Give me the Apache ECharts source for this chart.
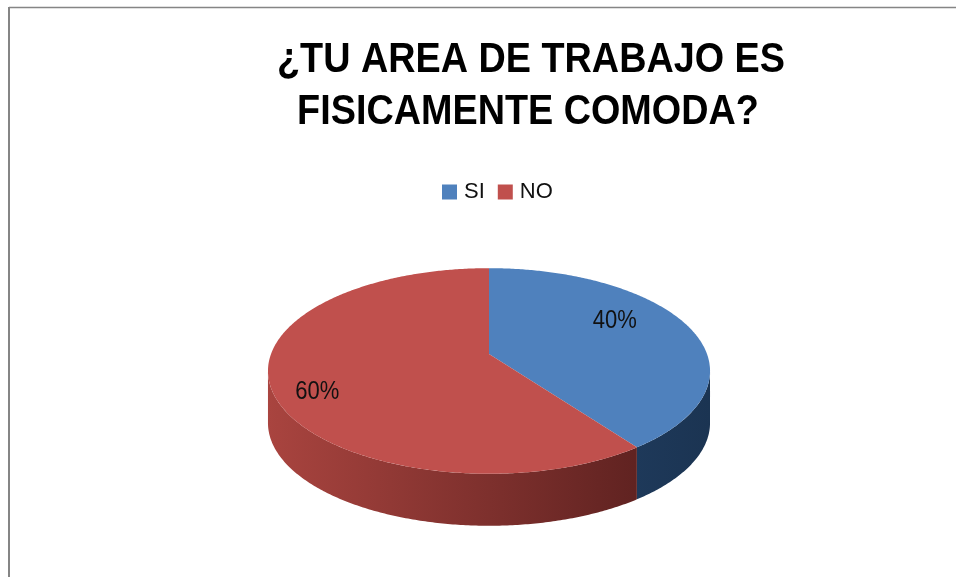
<!DOCTYPE html>
<html>
<head>
<meta charset="utf-8">
<script src="https://cdn.jsdelivr.net/npm/echarts@6/dist/echarts.min.js"></script>
<style>
  html, body { margin: 0; padding: 0; background: #fff; }
  #chart { width: 956px; height: 577px; }
</style>
</head>
<body>
<div id="chart"></div>
<script>
const categories = ['SI', 'NO'];
const values = [40, 60];
const colors = ['#4F81BD', '#C0504D'];
const sideColors = [['#2C5180', '#1B3452'], ['#A9443F', '#521C1B']];
const titleLines = ['¿TU AREA DE TRABAJO ES', 'FISICAMENTE COMODA?'];

const FONT = '"Liberation Sans", Arial, sans-serif';

// pie geometry (perspective ellipse)
const CX = 489, CY = 354;      // projected centre
const SX = 218, SY = 100;
const K = 0.165;               // perspective strength
const DEPTH = 52;
// small shifts so the % labels sit where the original put them
const labelNudge = [[-24, -11], [-10, 14]];

function proj(theta, f) {
  const u = f * Math.cos(theta), v = f * Math.sin(theta);
  const w = 1 - K * v;
  return [CX + SX * u / w, CY + SY * v / w];
}

// silhouette angles (right and left extremes of the rim)
let thR = 0, thL = Math.PI, maxX = -1e9, minX = 1e9;
for (let i = 0; i <= 3600; i++) {
  const t = -Math.PI / 2 + i * 2 * Math.PI / 3600;
  const x = proj(t, 1)[0];
  if (x > maxX) { maxX = x; thR = t; }
  if (x < minX) { minX = x; thL = t; }
}

const total = values.reduce((a, b) => a + b, 0);
const starts = [];
let acc = 0;
values.forEach(v => { starts.push(acc); acc += v; });

function arc(a0, a1, f) {
  const pts = [];
  const n = Math.max(2, Math.ceil(Math.abs(a1 - a0) / 0.01));
  for (let i = 0; i <= n; i++) pts.push(proj(a0 + (a1 - a0) * i / n, f));
  return pts;
}

// narrow-looking text: measure, then squeeze horizontally
const ctx = document.createElement('canvas').getContext('2d');
function textWidth(str, font) { ctx.font = font; return ctx.measureText(str).width; }

function makeRender(idx) {
  return function (params, api) {
    const v = api.value(0);
    const a0 = -Math.PI / 2 + starts[idx] / total * 2 * Math.PI;
    const a1 = a0 + v / total * 2 * Math.PI;
    const children = [];

    const s0 = Math.max(a0, thR), s1 = Math.min(a1, thL);
    if (s1 > s0) {
      const top = arc(s0, s1, 1);
      const bottom = top.map(p => [p[0], p[1] + DEPTH]).reverse();
      children.push({
        type: 'polygon',
        z2: 1,
        shape: { points: top.concat(bottom) },
        style: {
          fill: new echarts.graphic.LinearGradient(minX, 0, maxX, 0, [
            { offset: 0, color: sideColors[idx][0] },
            { offset: 1, color: sideColors[idx][1] }
          ], true)
        }
      });
    }

    children.push({
      type: 'polygon',
      z2: 2,
      shape: { points: [proj(0, 0)].concat(arc(a0, a1, 1)) },
      style: { fill: colors[idx] }
    });

    const mid = (a0 + a1) / 2;
    const lp = proj(mid, 0.75);
    const lx = lp[0] + labelNudge[idx][0], ly = lp[1] + labelNudge[idx][1];
    children.push({
      type: 'text',
      z2: 10,
      x: lx, y: ly,
      scaleX: 0.88,
      style: {
        text: Math.round(v / total * 100) + '%',
        x: 0, y: 0,
        fill: '#111',
        fontSize: 25,
        fontFamily: FONT,
        align: 'center',
        verticalAlign: 'middle'
      }
    });

    return { type: 'group', children: children };
  };
}

const titleFont = 'bold 42px "Liberation Sans"';
const titleScale = 508 / textWidth(titleLines[0], titleFont);

const chart = echarts.init(document.getElementById('chart'), null, { renderer: 'canvas' });

chart.setOption({
  animation: false,
  backgroundColor: '#fff',
  legend: {
    data: categories,
    left: 437,
    top: 176,
    icon: 'rect',
    itemWidth: 15,
    itemHeight: 15,
    itemGap: 13,
    textStyle: { fontFamily: FONT, fontSize: 22, color: '#111', padding: [0, 0, 0, 2] }
  },
  graphic: [
    { type: 'line', shape: { x1: 9, y1: 7.5, x2: 956, y2: 7.5 }, style: { stroke: '#858585', lineWidth: 1.5 } },
    { type: 'line', shape: { x1: 9, y1: 7, x2: 9, y2: 577 }, style: { stroke: '#858585', lineWidth: 2 } },
    {
      type: 'text', x: 531, y: 60, scaleX: titleScale,
      style: { text: titleLines[0], fontFamily: FONT, fontWeight: 'bold', fontSize: 42, fill: '#000', align: 'center', verticalAlign: 'middle' }
    },
    {
      type: 'text', x: 528, y: 112, scaleX: titleScale,
      style: { text: titleLines[1], fontFamily: FONT, fontWeight: 'bold', fontSize: 42, fill: '#000', align: 'center', verticalAlign: 'middle' }
    }
  ],
  series: categories.map((name, i) => ({
    type: 'custom',
    name: name,
    coordinateSystem: 'none',
    silent: true,
    itemStyle: { color: colors[i] },
    data: [values[i]],
    renderItem: makeRender(i)
  }))
});
</script>
</body>
</html>
